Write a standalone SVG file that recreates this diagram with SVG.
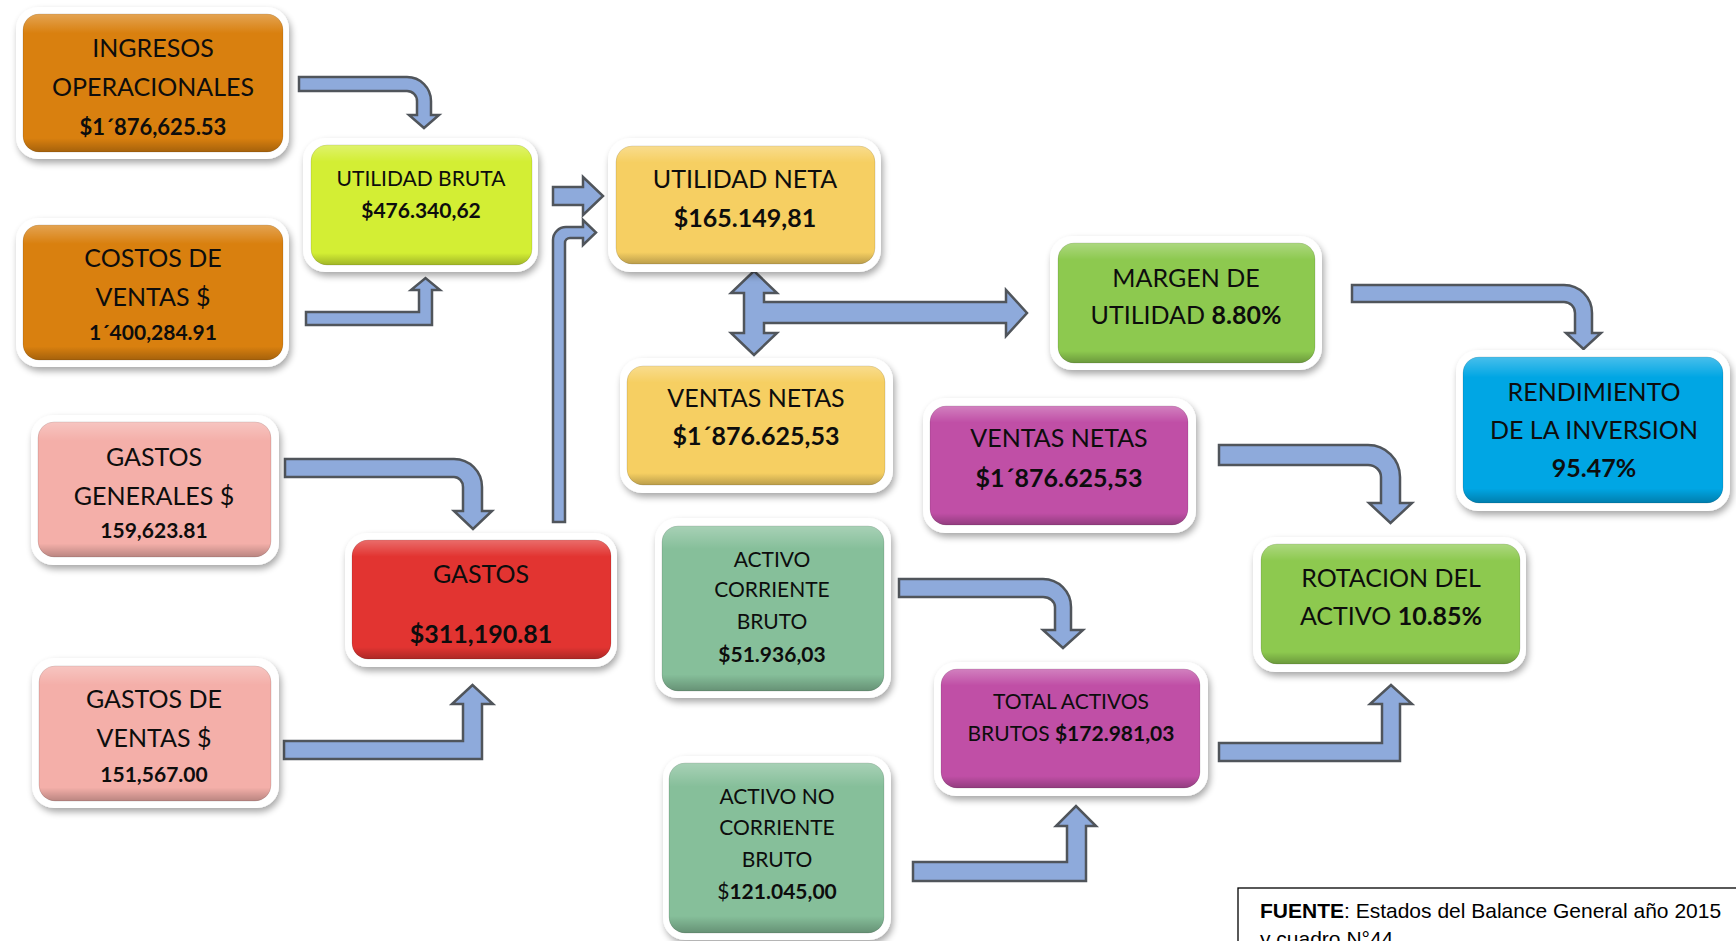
<svg xmlns="http://www.w3.org/2000/svg" width="1736" height="941" viewBox="0 0 1736 941">
  <defs>
    <filter id="sh" x="-10%" y="-10%" width="125%" height="130%">
      <feGaussianBlur in="SourceAlpha" stdDeviation="3.5"/>
      <feOffset dx="2" dy="4"/>
      <feComponentTransfer><feFuncA type="linear" slope="0.35"/></feComponentTransfer>
      <feMerge><feMergeNode/><feMergeNode in="SourceGraphic"/></feMerge>
    </filter>
    <linearGradient id="gloss" x1="0" y1="0" x2="0" y2="1">
      <stop offset="0" stop-color="#fff" stop-opacity="0.28"/>
      <stop offset="0.14" stop-color="#fff" stop-opacity="0"/>
      <stop offset="0.9" stop-color="#000" stop-opacity="0"/>
      <stop offset="1" stop-color="#000" stop-opacity="0.24"/>
    </linearGradient>
  </defs>
  <style>
    .frame { fill: #ffffff; filter: url(#sh); }
    .box { stroke: rgba(0,0,0,0.12); stroke-width: 1; }
    .gloss { fill: url(#gloss); }
    .orange { fill: #D9800F; }
    .lime { fill: #D3EE34; }
    .yellow { fill: #F6CF62; }
    .green { fill: #8DC94F; }
    .pink { fill: #F4AFA9; }
    .red { fill: #E23431; }
    .sea { fill: #86BF9A; }
    .magenta { fill: #C04FA6; }
    .blue { fill: #00A6E4; }
    .t { font-family: Lato, "Liberation Sans", sans-serif; text-anchor: middle; fill: #0d0d0d; }
    .L { font-size: 25px; }
    .M { font-size: 22px; }
    .S { font-size: 21px; }
    .b { font-weight: 700; }
    .arrow { fill: #8EAADB; stroke: #50555B; stroke-width: 2.5; stroke-linejoin: miter; }
    .note { font-family: "Liberation Sans", Arial, sans-serif; font-size: 21px; fill: #000; }
  </style>

  <rect width="1736" height="941" fill="#ffffff"/>

  <!-- connectors -->
  <g id="connectors">
    <path class="arrow" d="M299,77 H407 A24,24 0 0 1 431,101 V115 H439 L424,128 L409,115 H417 V101 A10,10 0 0 0 407,91 H299 Z"/>
    <path class="arrow" d="M306,312 H419 V290 H411 L425.5,278 L440,290 H432 V325 H306 Z"/>
    <path class="arrow" d="M553,187 H583 V177 L603,196 L583,215 V205 H553 Z"/>
    <path class="arrow" d="M553,522 V240 A13,13 0 0 1 566,227 H583 V220 L596,232.5 L583,245 V238 H570 A5,5 0 0 0 565,243 V522 Z"/>
    <path class="arrow" d="M754,271 L777,293 H764 V302 H1006 V290 L1027,313 L1006,336 V323 H764 V333 H777 L754,355 L731,333 H744 V293 H731 Z"/>
    <path class="arrow" d="M285,459 H454 A28,28 0 0 1 482,487 V511 H492 L473,529 L454,511 H463 V487 A9,10 0 0 0 454,477 H285 Z"/>
    <path class="arrow" d="M284,741 H463 V704 H452 L472.5,685 L493,704 H482 V759 H284 Z"/>
    <path class="arrow" d="M1352,285 H1564 A28,28 0 0 1 1592,313 V333 H1601 L1583.5,349 L1566,333 H1575 V313 A11,11 0 0 0 1564,302 H1352 Z"/>
    <path class="arrow" d="M1219,445 H1368 A32,32 0 0 1 1400,477 V503 H1412 L1390.5,523 L1369,503 H1381 V477 A13,12 0 0 0 1368,465 H1219 Z"/>
    <path class="arrow" d="M1219,743 H1382 V704 H1370 L1391,685 L1412,704 H1400 V761 H1219 Z"/>
    <path class="arrow" d="M899,579 H1043 A28,28 0 0 1 1071,607 V630 H1083 L1063,648 L1043,630 H1055 V607 A12,10 0 0 0 1043,597 H899 Z"/>
    <path class="arrow" d="M913,862 H1067 V826 H1056 L1076,806 L1096,826 H1086 V881 H913 Z"/>
  </g>

  <!-- nodes -->
  <g id="n-ingresos">
    <rect class="frame" x="16" y="7" width="273" height="152" rx="22"/>
    <rect class="box orange" x="23" y="14" width="260" height="138" rx="16"/>
    <rect class="gloss" x="23" y="14" width="260" height="138" rx="16"/>
    <text class="t L" x="153" y="57">INGRESOS</text>
    <text class="t L" x="153" y="96">OPERACIONALES</text>
    <text class="t M b" x="153" y="135">$1´876,625.53</text>
  </g>

  <g id="n-costos">
    <rect class="frame" x="16" y="218" width="273" height="149" rx="22"/>
    <rect class="box orange" x="23" y="225" width="260" height="135" rx="16"/>
    <rect class="gloss" x="23" y="225" width="260" height="135" rx="16"/>
    <text class="t L" x="153" y="267">COSTOS DE</text>
    <text class="t L" x="153" y="306">VENTAS $</text>
    <text class="t S b" x="153" y="340">1´400,284.91</text>
  </g>

  <g id="n-utilidad-bruta">
    <rect class="frame" x="303" y="138" width="235" height="134" rx="22"/>
    <rect class="box lime" x="311" y="145" width="221" height="120" rx="16"/>
    <rect class="gloss" x="311" y="145" width="221" height="120" rx="16"/>
    <text class="t S" x="421" y="186">UTILIDAD BRUTA</text>
    <text class="t S b" x="421" y="218">$476.340,62</text>
  </g>

  <g id="n-gastos-generales">
    <rect class="frame" x="31" y="415" width="248" height="150" rx="22"/>
    <rect class="box pink" x="38" y="422" width="233" height="135" rx="16"/>
    <rect class="gloss" x="38" y="422" width="233" height="135" rx="16"/>
    <text class="t L" x="154" y="466">GASTOS</text>
    <text class="t L" x="154" y="505">GENERALES $</text>
    <text class="t S b" x="154" y="538">159,623.81</text>
  </g>

  <g id="n-gastos-ventas">
    <rect class="frame" x="32" y="658" width="247" height="150" rx="22"/>
    <rect class="box pink" x="39" y="666" width="232" height="135" rx="16"/>
    <rect class="gloss" x="39" y="666" width="232" height="135" rx="16"/>
    <text class="t L" x="154" y="708">GASTOS DE</text>
    <text class="t L" x="154" y="747">VENTAS $</text>
    <text class="t S b" x="154" y="782">151,567.00</text>
  </g>

  <g id="n-gastos">
    <rect class="frame" x="345" y="533" width="272" height="134" rx="22"/>
    <rect class="box red" x="352" y="540" width="259" height="119" rx="16"/>
    <rect class="gloss" x="352" y="540" width="259" height="119" rx="16"/>
    <text class="t L" x="481" y="583">GASTOS</text>
    <text class="t L b" x="481" y="643">$311,190.81</text>
  </g>

  <g id="n-utilidad-neta">
    <rect class="frame" x="608" y="138" width="273" height="134" rx="22"/>
    <rect class="box yellow" x="616" y="146" width="259" height="118" rx="16"/>
    <rect class="gloss" x="616" y="146" width="259" height="118" rx="16"/>
    <text class="t L" x="745" y="188">UTILIDAD NETA</text>
    <text class="t L b" x="745" y="227">$165.149,81</text>
  </g>

  <g id="n-ventas-netas-1">
    <rect class="frame" x="620" y="358" width="273" height="135" rx="22"/>
    <rect class="box yellow" x="627" y="366" width="258" height="119" rx="16"/>
    <rect class="gloss" x="627" y="366" width="258" height="119" rx="16"/>
    <text class="t L" x="756" y="407">VENTAS NETAS</text>
    <text class="t L b" x="756" y="445">$1´876.625,53</text>
  </g>

  <g id="n-activo-corriente">
    <rect class="frame" x="655" y="518" width="236" height="180" rx="22"/>
    <rect class="box sea" x="662" y="526" width="222" height="165" rx="16"/>
    <rect class="gloss" x="662" y="526" width="222" height="165" rx="16"/>
    <text class="t S" x="772" y="567">ACTIVO</text>
    <text class="t S" x="772" y="597">CORRIENTE</text>
    <text class="t S" x="772" y="629">BRUTO</text>
    <text class="t S b" x="772" y="662">$51.936,03</text>
  </g>

  <g id="n-activo-no-corriente">
    <rect class="frame" x="663" y="756" width="228" height="184" rx="22"/>
    <rect class="box sea" x="669" y="763" width="215" height="170" rx="16"/>
    <rect class="gloss" x="669" y="763" width="215" height="170" rx="16"/>
    <text class="t S" x="777" y="804">ACTIVO NO</text>
    <text class="t S" x="777" y="835">CORRIENTE</text>
    <text class="t S" x="777" y="867">BRUTO</text>
    <text class="t S" x="777" y="899">$<tspan class="b">121.045,00</tspan></text>
  </g>

  <g id="n-margen">
    <rect class="frame" x="1050" y="236" width="272" height="134" rx="22"/>
    <rect class="box green" x="1058" y="243" width="257" height="120" rx="16"/>
    <rect class="gloss" x="1058" y="243" width="257" height="120" rx="16"/>
    <text class="t L" x="1186" y="287">MARGEN DE</text>
    <text class="t L" x="1186" y="324">UTILIDAD <tspan class="b">8.80%</tspan></text>
  </g>

  <g id="n-ventas-netas-2">
    <rect class="frame" x="923" y="398" width="273" height="135" rx="22"/>
    <rect class="box magenta" x="930" y="406" width="258" height="119" rx="16"/>
    <rect class="gloss" x="930" y="406" width="258" height="119" rx="16"/>
    <text class="t L" x="1059" y="447">VENTAS NETAS</text>
    <text class="t L b" x="1059" y="487">$1´876.625,53</text>
  </g>

  <g id="n-total-activos">
    <rect class="frame" x="934" y="662" width="274" height="134" rx="22"/>
    <rect class="box magenta" x="941" y="669" width="259" height="119" rx="16"/>
    <rect class="gloss" x="941" y="669" width="259" height="119" rx="16"/>
    <text class="t S" x="1071" y="709">TOTAL ACTIVOS</text>
    <text class="t S" x="1071" y="741">BRUTOS <tspan class="b">$172.981,03</tspan></text>
  </g>

  <g id="n-rotacion">
    <rect class="frame" x="1253" y="537" width="273" height="135" rx="22"/>
    <rect class="box green" x="1261" y="544" width="259" height="120" rx="16"/>
    <rect class="gloss" x="1261" y="544" width="259" height="120" rx="16"/>
    <text class="t L" x="1391" y="587">ROTACION DEL</text>
    <text class="t L" x="1391" y="625">ACTIVO <tspan class="b">10.85%</tspan></text>
  </g>

  <g id="n-rendimiento">
    <rect class="frame" x="1456" y="350" width="274" height="161" rx="22"/>
    <rect class="box blue" x="1463" y="357" width="260" height="146" rx="16"/>
    <rect class="gloss" x="1463" y="357" width="260" height="146" rx="16"/>
    <text class="t L" x="1594" y="401">RENDIMIENTO</text>
    <text class="t L" x="1594" y="439">DE LA INVERSION</text>
    <text class="t L b" x="1594" y="477">95.47%</text>
  </g>

  <!-- source note -->
  <g id="fuente">
    <rect x="1238" y="888" width="520" height="80" fill="#ffffff" stroke="#000" stroke-width="1.3"/>
    <text class="note" x="1260" y="918"><tspan font-weight="700">FUENTE</tspan>: Estados del Balance General año 2015</text>
    <text class="note" x="1260" y="946">y cuadro N°44</text>
  </g>
</svg>
